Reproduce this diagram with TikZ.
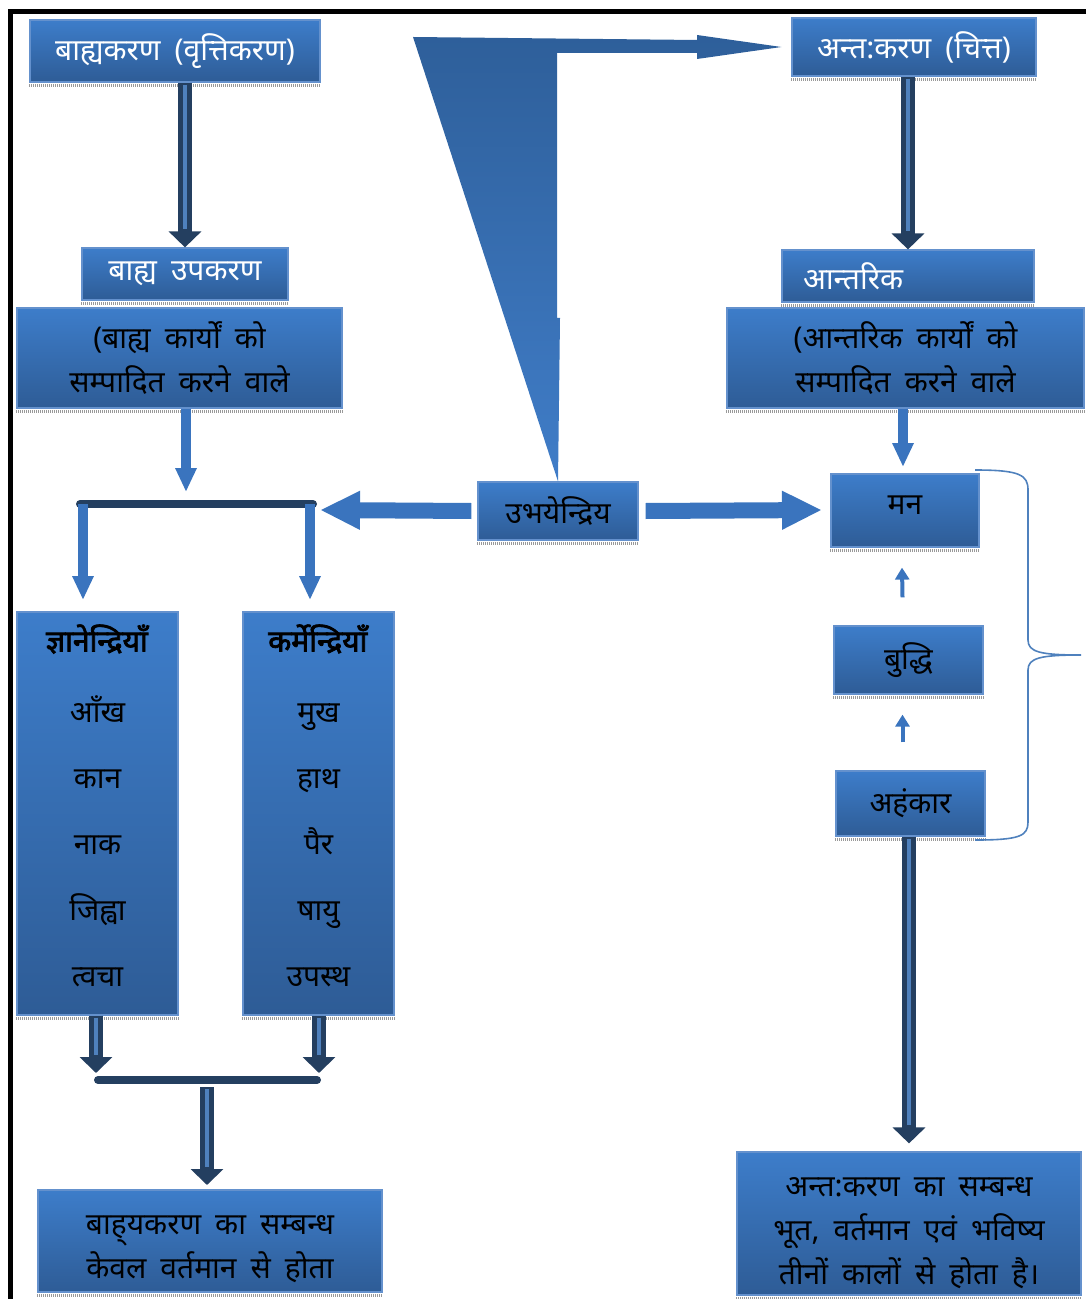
\documentclass[tikz,border=0pt]{standalone}
\usepackage{fontspec}
\setmainfont[Script=Devanagari,WordSpace={1.8,0,0},AutoFakeBold=2.5]{Noto Sans}
\usetikzlibrary{arrows.meta,calc}
\definecolor{boxtop}{RGB}{61,125,202}
\definecolor{boxbot}{RGB}{46,92,150}
\definecolor{boxedge}{RGB}{100,145,205}
\definecolor{navy}{RGB}{36,63,96}
\definecolor{stripe}{RGB}{79,129,189}
\definecolor{arrowblue}{RGB}{58,116,190}
\definecolor{wedgetop}{RGB}{46,95,154}
\definecolor{wedgebot}{RGB}{64,125,200}

\begin{document}
\begin{tikzpicture}[x=0.5pt,y=-0.5pt,
	box/.style={draw=boxedge, line width=0.6pt, top color=boxtop, bottom color=boxbot,
		inner sep=0pt, align=flush center, font=\fontsize{15}{22}\selectfont},
	tallbox/.style={box, font=\fontsize{15}{33}\selectfont},
	lighttext/.style={text=white},
	navyarrow/.style={draw=navy, line width=7pt, -{Triangle[length=8pt,width=16pt]},
		postaction={draw=stripe, line width=2.2pt, -, shorten >=9pt, shorten <=1pt}},
	bluearrow/.style={draw=arrowblue, line width=5pt, -{Triangle[length=12pt,width=10pt]}},
	widearrow/.style={draw=arrowblue, line width=8pt, -{Triangle[length=20pt,width=18pt]}},
	smallarrow/.style={draw=arrowblue, line width=2pt, -{Triangle[length=6pt,width=7pt]}},
	navybar/.style={draw=navy, line width=4pt, line cap=round},
	shadowline/.style={draw=gray!80, line width=1.8pt, dash pattern=on 0.5pt off 0.5pt},
	brace/.style={draw=stripe, line width=0.8pt}
	]
	\useasboundingbox (0,0) rectangle (1086,1299);
	\draw[line width=2.5pt] (1086,12) -- (10,12) -- (10,1299);

	% left column
	\node[box, lighttext,
		minimum width=145pt,
		minimum height=31pt
	] (ext) at (175,51) {बाह्यकरण (वृत्तिकरण)};

	\node[box, lighttext,
		minimum width=103pt,
		minimum height=26pt
	] (extTool) at (185,274) {बाह्य उपकरण};

	\node[box,
		minimum width=162.5pt,
		minimum height=50pt
	] (extWork) at (179.5,358) {(बाह्य कार्यों को\\ सम्पादित करने वाले};

	\node[tallbox,
		minimum width=80.5pt,
		minimum height=201.5pt
	] (jnana) at (97.5,813.5) {\textbf{ज्ञानेन्द्रियाँ}\\[2.5pt] आँख\\ कान\\ नाक\\ जिह्वा\\ त्वचा\\[-25pt]\mbox{}};

	\node[tallbox,
		minimum width=75.5pt,
		minimum height=201.5pt
	] (karma) at (318.5,813.5) {\textbf{कर्मेन्द्रियाँ}\\[2.5pt] मुख\\ हाथ\\ पैर\\ षायु\\ उपस्थ\\[-25pt]\mbox{}};

	\node[box,
		minimum width=172pt,
		minimum height=51pt
	] (extRel) at (210,1241) {\mbox{}\\[-4pt]बाह्^^^^200cयकरण का सम्बन्ध\\ केवल वर्तमान से होता};

	% middle
	\node[box,
		minimum width=80pt,
		minimum height=29pt
	] (ubhaya) at (558,511) {उभयेन्द्रिय};

	% right column
	\node[box, lighttext,
		minimum width=122pt,
		minimum height=29pt
	] (inner) at (914,47) {अन्त:करण (चित्त)};

	\node[box, lighttext,
		minimum width=126pt,
		minimum height=26pt,
		inner xsep=10.5pt,
		text width=105pt,
		align=left
	] (intTool) at (908,276) {आन्तरिक};

	\node[box,
		minimum width=178.5pt,
		minimum height=50pt
	] (intWork) at (905.5,358) {(आन्तरिक कार्यों को\\ सम्पादित करने वाले};

	\node[box,
		minimum width=74pt,
		minimum height=36.5pt
	] (mana) at (905,510.5) {मन\\[-17pt]\mbox{}};

	\node[box,
		minimum width=74.5pt,
		minimum height=34pt
	] (buddhi) at (908.5,660) {बुद्धि};

	\node[box,
		minimum width=74.5pt,
		minimum height=32.5pt
	] (ahank) at (910.5,803.5) {अहंकार};

	\node[box,
		minimum width=172pt,
		minimum height=71.5pt
	] (intRel) at (909,1223.5) {\mbox{}\\[-3pt]अन्त:करण का सम्बन्ध\\ भूत, वर्तमान एवं भविष्य\\ तीनों कालों से होता है।};

	\foreach \n in {ext,extTool,extWork,jnana,karma,extRel,ubhaya,inner,intTool,intWork,mana,buddhi,ahank,intRel}
		\draw[shadowline] ($(\n.south west)+(0,3)$) -- ($(\n.south east)+(0,3)$);

	\coordinate (barL) at (80,504);
	\coordinate (barR) at (313,504);
	\coordinate (barIn) at (186,492);
	\coordinate (jTip) at (83,600);
	\coordinate (kTip) at (310,600);
	\coordinate (barLo) at (98,1080);
	\coordinate (barRo) at (317,1080);
	\coordinate (jOut) at (96,1073);
	\coordinate (kOut) at (319,1073);
	\coordinate (relIn) at (207,1185);
	\coordinate (leftTip) at (320,510);
	\coordinate (rightTip) at (822,510);

	% wedge arrow from ubhaya up to inner
	\shade[top color=wedgetop, bottom color=wedgebot]
		(413,37) -- (697,40) -- (697,35) -- ($(inner.west)+(-10,0)$) -- (697,59) -- (697,53)
		-- (557,53) -- (557,318) -- (560,318) -- (ubhaya.north) -- cycle;

	\draw[navyarrow] (extTool.north |- ext.south) -- (extTool.north);
	\draw[bluearrow] (extWork.south -| barIn) -- (barIn);
	\draw[navybar] (barL) -- (barR);
	\draw[bluearrow] (jTip |- barL) -- (jTip);
	\draw[bluearrow] (kTip |- barR) -- (kTip);
	\draw[navyarrow] (jOut |- jnana.south) -- (jOut);
	\draw[navyarrow] (kOut |- karma.south) -- (kOut);
	\draw[navybar] (barLo) -- (barRo);
	\draw[navyarrow] ($(relIn |- barLo)+(0,7)$) -- (relIn);

	\draw[widearrow] ($(ubhaya.west)+(-6,0)$) -- (leftTip);
	\draw[widearrow] ($(ubhaya.east)+(7,0)$) -- (rightTip);

	\draw[navyarrow] (intTool.north |- inner.south) -- (intTool.north);
	\draw[bluearrow] (intWork.south -| 903,0) -- (903,467);
	\draw[smallarrow] ($(buddhi.north)+(-6,-28)$) -- ($(mana.south)+(-3,20)$);
	\draw[smallarrow] ($(ahank.north)+(-8,-28)$) -- ($(buddhi.south)+(-6,20)$);
	\draw[navyarrow] (intRel.north |- ahank.south) -- ($(intRel.north)+(0,-8)$);

	\draw[brace] (975,470) .. controls (1020,470) and (1028,475) .. (1028,490) -- (1028,640)
		.. controls (1028,652) and (1040,655) .. (1081,655)
		.. controls (1040,655) and (1028,658) .. (1028,670) -- (1028,822)
		.. controls (1028,836) and (1020,840) .. (975,840);
\end{tikzpicture}
\end{document}
